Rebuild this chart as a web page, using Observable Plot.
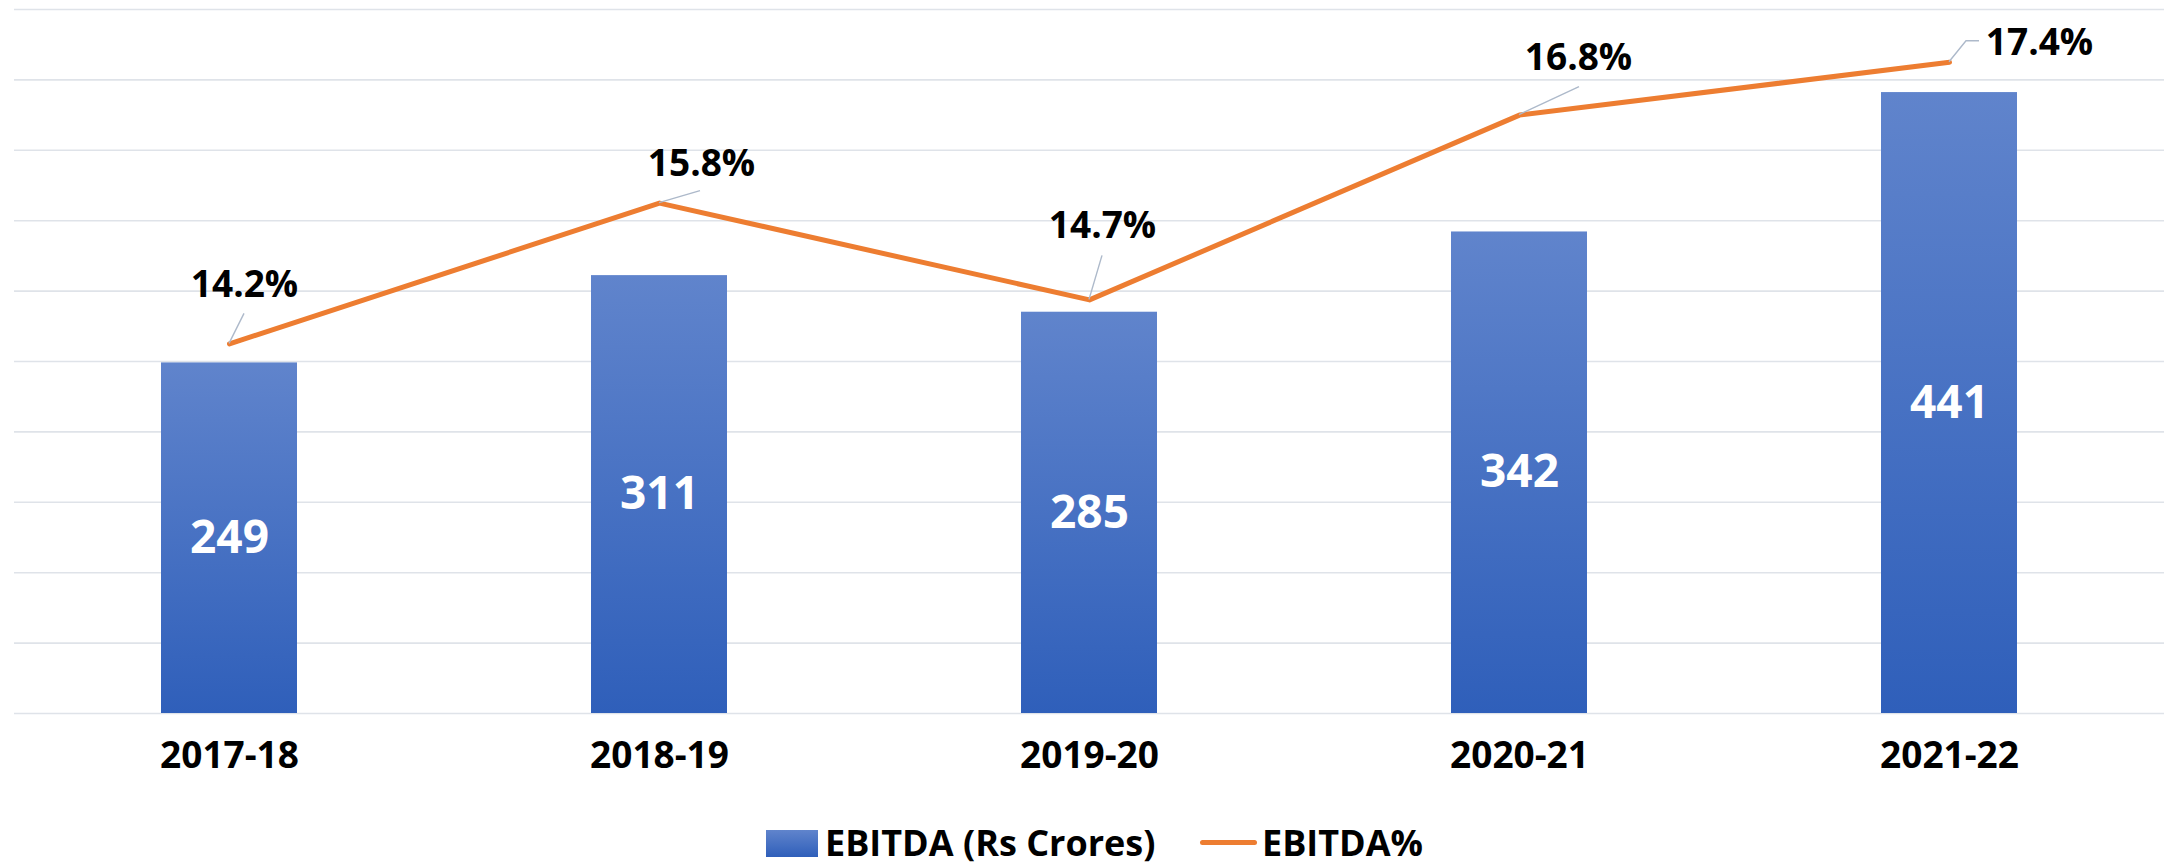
<!DOCTYPE html>
<html><head><meta charset="utf-8">
<script src="https://cdn.jsdelivr.net/npm/d3@7"></script>
<script src="https://cdn.jsdelivr.net/npm/@observablehq/plot@0.6"></script>
<style>
body{margin:0;background:#fff;font-family:"Open Sans",sans-serif;overflow:hidden;}
#chart svg{display:block;}
#legend{position:relative;height:63px;width:2165px;}
.lt{position:absolute;top:20px;height:44px;display:flex;align-items:center;font-weight:bold;font-size:36px;color:#000;white-space:nowrap;}
.sw{position:absolute;}
</style></head><body>
<div id="chart"></div>
<div id="legend">
  <div class="sw" style="left:766px;top:30px;width:52px;height:27px;background:linear-gradient(#6084cc,#2f5fba)"></div>
  <div class="lt" style="left:825px">EBITDA (Rs Crores)</div>
  <div class="sw" style="left:1200px;top:40px;width:57px;height:5px;border-radius:3px;background:#ED7D31"></div>
  <div class="lt" style="left:1262px">EBITDA%</div>
</div>
<script>
const years = ["2017-18", "2018-19", "2019-20", "2020-21", "2021-22"];
const ebitda = [249, 311, 285, 342, 441];
const ebitdaPct = [14.2, 15.8, 14.7, 16.8, 17.4];
const barTicks = [0, 50, 100, 150, 200, 250, 300, 350, 400, 450, 500];
const barDomain = [0, 500];
const pctDomain = [10, 18];

// layout of percentage labels (pixel offsets from the data point)
const labelLayout = [
  {dx: 15, dy: -59, leader: [[15, -30]]},
  {dx: 42, dy: -39, leader: [[41, -12]]},
  {dx: 13, dy: -74, leader: [[13, -44]]},
  {dx: 59, dy: -57, leader: [[60, -28]]},
  {dx: 90, dy: -19, leader: [[17, -21], [30, -21]]}
];

const data = years.map((year, i) => ({year, ebitda: ebitda[i], pct: ebitdaPct[i]}));
const pctToY = p => barDomain[0] + (p - pctDomain[0]) / (pctDomain[1] - pctDomain[0]) * (barDomain[1] - barDomain[0]);

function leaders(index, scales) {
  const g = d3.create("svg:g");
  const bw = scales.x.bandwidth ? scales.x.bandwidth() : 0;
  data.forEach((d, i) => {
    const px = scales.x(d.year) + bw / 2, py = scales.y(pctToY(d.pct));
    const pts = [[px, py], ...labelLayout[i].leader.map(([a, b]) => [px + a, py + b])];
    g.append("path").attr("d", d3.line()(pts)).attr("fill", "none")
      .attr("stroke", "#adb9ca").attr("stroke-width", 1.4);
  });
  return g.node();
}

const pctLabels = data.map((d, i) => Plot.text([d], {
  x: "year", y: v => pctToY(v.pct), text: v => v.pct.toFixed(1) + "%",
  dx: labelLayout[i].dx, dy: labelLayout[i].dy,
  fontSize: 37, fontWeight: "bold", fill: "#000"
}));

const chart = Plot.plot({
  width: 2165, height: 800,
  marginTop: 9, marginBottom: 87, marginLeft: 14, marginRight: 1,
  style: {fontFamily: "'Open Sans', sans-serif", background: "#fff"},
  x: {domain: years, axis: null, paddingInner: 0.684, paddingOuter: 0.342},
  y: {domain: barDomain, axis: null},
  marks: [
    Plot.ruleY(barTicks, {stroke: "#dfe3e9", strokeWidth: 1.6}),
    Plot.barY(data, {x: "year", y: "ebitda", fill: "url(#barGrad)"}),
    Plot.text(data, {x: "year", y: d => d.ebitda / 2, text: d => String(d.ebitda), fill: "#fff", fontSize: 46, fontWeight: "bold"}),
    Plot.line(data, {x: "year", y: d => pctToY(d.pct), stroke: "#ED7D31", strokeWidth: 5, strokeLinecap: "round", strokeLinejoin: "round"}),
    leaders,
    ...pctLabels,
    Plot.text(years, {x: d => d, frameAnchor: "bottom", dy: 54, fontSize: 37, fontWeight: "bold", fill: "#000"})
  ]
});

const defs = d3.create("svg:defs");
const grad = defs.append("linearGradient").attr("id", "barGrad").attr("x1", 0).attr("y1", 0).attr("x2", 0).attr("y2", 1);
grad.append("stop").attr("offset", "0%").attr("stop-color", "#6084cc");
grad.append("stop").attr("offset", "100%").attr("stop-color", "#2f5fba");
chart.insertBefore(defs.node(), chart.firstChild);
document.getElementById("chart").appendChild(chart);
</script>
</body></html>
